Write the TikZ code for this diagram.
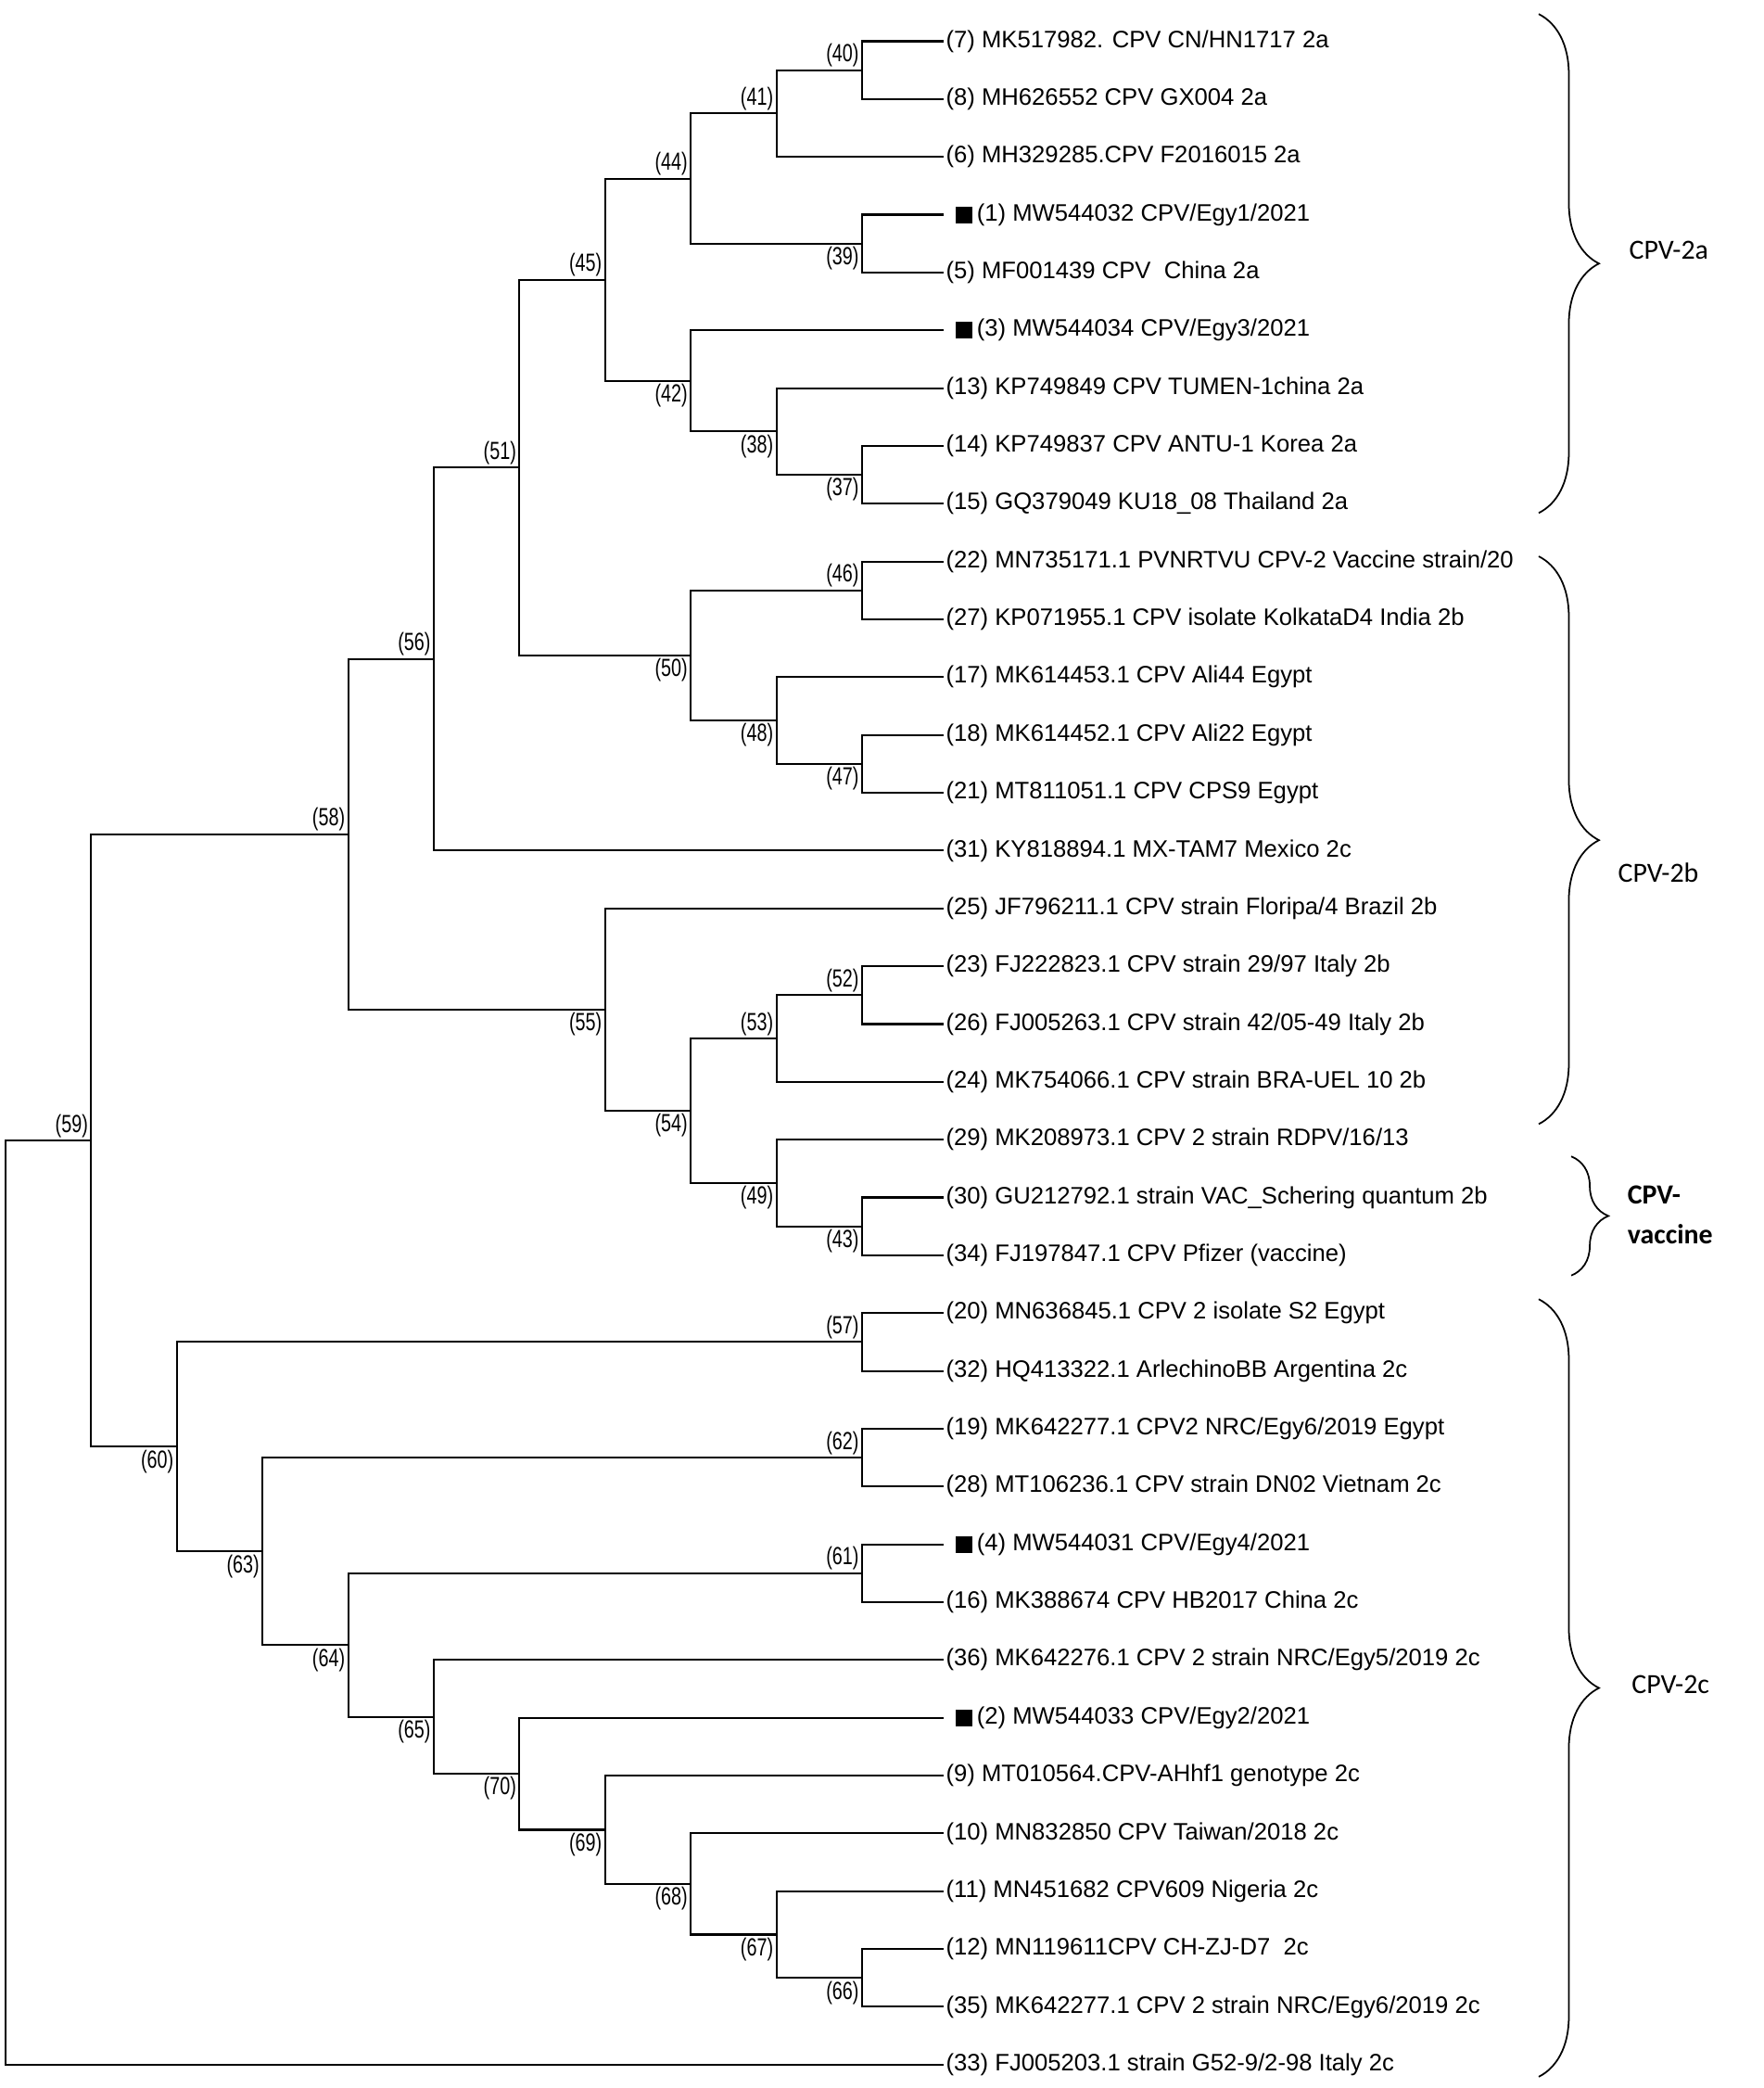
\documentclass[tikz,border=0pt]{standalone}
\usepackage{fontspec}
\setmainfont{Liberation Sans}
\newfontfamily\cladefont{Carlito}
\usetikzlibrary{decorations.pathreplacing}

\newcommand{\nodenum}[1]{\scalebox{0.74}[1]{(#1)}}

\tikzset{
  branch/.style={line width=0.6pt},
  leaf/.style={anchor=west, inner sep=0.6pt, font=\fontsize{7.3}{8}\selectfont},
  numup/.style={anchor=south east, inner sep=0.8pt, font=\fontsize{7.6}{8}\selectfont},
  numdown/.style={anchor=north east, inner sep=0.8pt, font=\fontsize{7.6}{8}\selectfont},
  egybox/.style={fill=black, minimum width=0.18cm, minimum height=0.18cm, inner sep=0pt},
  clade/.style={decorate, decoration={brace, amplitude=0.65cm}, line width=0.5pt},
  cladetext/.style={anchor=west, inner sep=0pt, font=\cladefont\fontsize{8.5}{10}\selectfont}
}

\begin{document}
\begin{tikzpicture}[x=0.924cm, y=-0.6235cm]
\useasboundingbox (-0.06cm,0.445cm) rectangle (18.96cm,-22.075cm);

% leaf ends
\coordinate (l7) at (10.95,0);
\coordinate (l8) at (10.95,1);
\coordinate (l6) at (10.95,2);
\coordinate (l1) at (10.95,3);
\coordinate (l5) at (10.95,4);
\coordinate (l3) at (10.95,5);
\coordinate (l13) at (10.95,6);
\coordinate (l14) at (10.95,7);
\coordinate (l15) at (10.95,8);
\coordinate (l22) at (10.95,9);
\coordinate (l27) at (10.95,10);
\coordinate (l17) at (10.95,11);
\coordinate (l18) at (10.95,12);
\coordinate (l21) at (10.95,13);
\coordinate (l31) at (10.95,14);
\coordinate (l25) at (10.95,15);
\coordinate (l23) at (10.95,16);
\coordinate (l26) at (10.95,17);
\coordinate (l24) at (10.95,18);
\coordinate (l29) at (10.95,19);
\coordinate (l30) at (10.95,20);
\coordinate (l34) at (10.95,21);
\coordinate (l20) at (10.95,22);
\coordinate (l32) at (10.95,23);
\coordinate (l19) at (10.95,24);
\coordinate (l28) at (10.95,25);
\coordinate (l4) at (10.95,26);
\coordinate (l16) at (10.95,27);
\coordinate (l36) at (10.95,28);
\coordinate (l2) at (10.95,29);
\coordinate (l9) at (10.95,30);
\coordinate (l10) at (10.95,31);
\coordinate (l11) at (10.95,32);
\coordinate (l12) at (10.95,33);
\coordinate (l35) at (10.95,34);
\coordinate (l33) at (10.95,35);

% inner nodes
\coordinate (n40) at (10,0.5);
\coordinate (n41) at (9,1.25);
\coordinate (n39) at (10,3.5);
\coordinate (n44) at (8,2.375);
\coordinate (n37) at (10,7.5);
\coordinate (n38) at (9,6.75);
\coordinate (n42) at (8,5.875);
\coordinate (n45) at (7,4.125);
\coordinate (n46) at (10,9.5);
\coordinate (n47) at (10,12.5);
\coordinate (n48) at (9,11.75);
\coordinate (n50) at (8,10.625);
\coordinate (n51) at (6,7.375);
\coordinate (n56) at (5,10.688);
\coordinate (n52) at (10,16.5);
\coordinate (n53) at (9,17.25);
\coordinate (n43) at (10,20.5);
\coordinate (n49) at (9,19.75);
\coordinate (n54) at (8,18.5);
\coordinate (n55) at (7,16.75);
\coordinate (n58) at (4,13.719);
\coordinate (n57) at (10,22.5);
\coordinate (n62) at (10,24.5);
\coordinate (n61) at (10,26.5);
\coordinate (n66) at (10,33.5);
\coordinate (n67) at (9,32.75);
\coordinate (n68) at (8,31.875);
\coordinate (n69) at (7,30.938);
\coordinate (n70) at (6,29.969);
\coordinate (n65) at (5,28.984);
\coordinate (n64) at (4,27.742);
\coordinate (n63) at (3,26.121);
\coordinate (n60) at (2,24.311);
\coordinate (n59) at (1,19.015);
\coordinate (nr) at (0,27.007);

% branches
\draw[branch] (l7) -| (n40) |- (l8);
\draw[branch] (n40) -| (n41) |- (l6);
\draw[branch] (l1) -| (n39) |- (l5);
\draw[branch] (n41) -| (n44) |- (n39);
\draw[branch] (l14) -| (n37) |- (l15);
\draw[branch] (l13) -| (n38) |- (n37);
\draw[branch] (l3) -| (n42) |- (n38);
\draw[branch] (n44) -| (n45) |- (n42);
\draw[branch] (l22) -| (n46) |- (l27);
\draw[branch] (l18) -| (n47) |- (l21);
\draw[branch] (l17) -| (n48) |- (n47);
\draw[branch] (n46) -| (n50) |- (n48);
\draw[branch] (n45) -| (n51) |- (n50);
\draw[branch] (n51) -| (n56) |- (l31);
\draw[branch] (l23) -| (n52) |- (l26);
\draw[branch] (n52) -| (n53) |- (l24);
\draw[branch] (l30) -| (n43) |- (l34);
\draw[branch] (l29) -| (n49) |- (n43);
\draw[branch] (n53) -| (n54) |- (n49);
\draw[branch] (l25) -| (n55) |- (n54);
\draw[branch] (n56) -| (n58) |- (n55);
\draw[branch] (l20) -| (n57) |- (l32);
\draw[branch] (l19) -| (n62) |- (l28);
\draw[branch] (l4) -| (n61) |- (l16);
\draw[branch] (l12) -| (n66) |- (l35);
\draw[branch] (l11) -| (n67) |- (n66);
\draw[branch] (l10) -| (n68) |- (n67);
\draw[branch] (l9) -| (n69) |- (n68);
\draw[branch] (l2) -| (n70) |- (n69);
\draw[branch] (l36) -| (n65) |- (n70);
\draw[branch] (n61) -| (n64) |- (n65);
\draw[branch] (n62) -| (n63) |- (n64);
\draw[branch] (n57) -| (n60) |- (n63);
\draw[branch] (n58) -| (n59) |- (n60);
\draw[branch] (n59) -| (nr) |- (l33);

% node numbers
\node[numup] (c40) at (n40) {\nodenum{40}};
\node[numup] (c41) at (n41) {\nodenum{41}};
\node[numup] (c44) at (n44) {\nodenum{44}};
\node[numup] (c45) at (n45) {\nodenum{45}};
\node[numup] (c51) at (n51) {\nodenum{51}};
\node[numup] (c46) at (n46) {\nodenum{46}};
\node[numup] (c56) at (n56) {\nodenum{56}};
\node[numup] (c58) at (n58) {\nodenum{58}};
\node[numup] (c52) at (n52) {\nodenum{52}};
\node[numup] (c53) at (n53) {\nodenum{53}};
\node[numup] (c57) at (n57) {\nodenum{57}};
\node[numup] (c62) at (n62) {\nodenum{62}};
\node[numup] (c61) at (n61) {\nodenum{61}};
\node[numup] (c59) at (n59) {\nodenum{59}};
\node[numdown] (c39) at (n39) {\nodenum{39}};
\node[numdown] (c37) at (n37) {\nodenum{37}};
\node[numdown] (c38) at (n38) {\nodenum{38}};
\node[numdown] (c42) at (n42) {\nodenum{42}};
\node[numdown] (c50) at (n50) {\nodenum{50}};
\node[numdown] (c48) at (n48) {\nodenum{48}};
\node[numdown] (c47) at (n47) {\nodenum{47}};
\node[numdown] (c55) at (n55) {\nodenum{55}};
\node[numdown] (c54) at (n54) {\nodenum{54}};
\node[numdown] (c49) at (n49) {\nodenum{49}};
\node[numdown] (c43) at (n43) {\nodenum{43}};
\node[numdown] (c60) at (n60) {\nodenum{60}};
\node[numdown] (c63) at (n63) {\nodenum{63}};
\node[numdown] (c64) at (n64) {\nodenum{64}};
\node[numdown] (c65) at (n65) {\nodenum{65}};
\node[numdown] (c70) at (n70) {\nodenum{70}};
\node[numdown] (c69) at (n69) {\nodenum{69}};
\node[numdown] (c68) at (n68) {\nodenum{68}};
\node[numdown] (c67) at (n67) {\nodenum{67}};
\node[numdown] (c66) at (n66) {\nodenum{66}};

% taxa
\node[leaf] (t7) at (l7) {(7) MK517982. CPV CN/HN1717 2a};
\node[leaf] (t8) at (l8) {(8) MH626552 CPV GX004 2a};
\node[leaf] (t6) at (l6) {(6) MH329285.CPV F2016015 2a};
\node[egybox] (s1) at (11.19,3) {};
\node[leaf] (t1) at (11.31,3) {(1) MW544032 CPV/Egy1/2021};
\node[leaf] (t5) at (l5) {(5) MF001439 CPV\ \ China 2a};
\node[egybox] (s3) at (11.19,5) {};
\node[leaf] (t3) at (11.31,5) {(3) MW544034 CPV/Egy3/2021};
\node[leaf] (t13) at (l13) {(13) KP749849 CPV TUMEN-1china 2a};
\node[leaf] (t14) at (l14) {(14) KP749837 CPV ANTU-1 Korea 2a};
\node[leaf] (t15) at (l15) {(15) GQ379049 KU18\_08 Thailand 2a};
\node[leaf] (t22) at (l22) {(22) MN735171.1 PVNRTVU CPV-2 Vaccine strain/20};
\node[leaf] (t27) at (l27) {(27) KP071955.1 CPV isolate KolkataD4 India 2b};
\node[leaf] (t17) at (l17) {(17) MK614453.1 CPV Ali44 Egypt};
\node[leaf] (t18) at (l18) {(18) MK614452.1 CPV Ali22 Egypt};
\node[leaf] (t21) at (l21) {(21) MT811051.1 CPV CPS9 Egypt};
\node[leaf] (t31) at (l31) {(31) KY818894.1 MX-TAM7 Mexico 2c};
\node[leaf] (t25) at (l25) {(25) JF796211.1 CPV strain Floripa/4 Brazil 2b};
\node[leaf] (t23) at (l23) {(23) FJ222823.1 CPV strain 29/97 Italy 2b};
\node[leaf] (t26) at (l26) {(26) FJ005263.1 CPV strain 42/05-49 Italy 2b};
\node[leaf] (t24) at (l24) {(24) MK754066.1 CPV strain BRA-UEL 10 2b};
\node[leaf] (t29) at (l29) {(29) MK208973.1 CPV 2 strain RDPV/16/13};
\node[leaf] (t30) at (l30) {(30) GU212792.1 strain VAC\_Schering quantum 2b};
\node[leaf] (t34) at (l34) {(34) FJ197847.1 CPV Pfizer (vaccine)};
\node[leaf] (t20) at (l20) {(20) MN636845.1 CPV 2 isolate S2 Egypt};
\node[leaf] (t32) at (l32) {(32) HQ413322.1 ArlechinoBB Argentina 2c};
\node[leaf] (t19) at (l19) {(19) MK642277.1 CPV2 NRC/Egy6/2019 Egypt};
\node[leaf] (t28) at (l28) {(28) MT106236.1 CPV strain DN02 Vietnam 2c};
\node[egybox] (s4) at (11.19,26) {};
\node[leaf] (t4) at (11.31,26) {(4) MW544031 CPV/Egy4/2021};
\node[leaf] (t16) at (l16) {(16) MK388674 CPV HB2017 China 2c};
\node[leaf] (t36) at (l36) {(36) MK642276.1 CPV 2 strain NRC/Egy5/2019 2c};
\node[egybox] (s2) at (11.19,29) {};
\node[leaf] (t2) at (11.31,29) {(2) MW544033 CPV/Egy2/2021};
\node[leaf] (t9) at (l9) {(9) MT010564.CPV-AHhf1 genotype 2c};
\node[leaf] (t10) at (l10) {(10) MN832850 CPV Taiwan/2018 2c};
\node[leaf] (t11) at (l11) {(11) MN451682 CPV609 Nigeria 2c};
\node[leaf] (t12) at (l12) {(12) MN119611CPV CH-ZJ-D7\ \ 2c};
\node[leaf] (t35) at (l35) {(35) MK642277.1 CPV 2 strain NRC/Egy6/2019 2c};
\node[leaf] (t33) at (l33) {(33) FJ005203.1 strain G52-9/2-98 Italy 2c};

% genotype braces
\coordinate (b2a) at (17.90,-0.47);
\coordinate (e2a) at (17.90,8.16);
\coordinate (b2b) at (17.90,8.91);
\coordinate (e2b) at (17.90,18.73);
\coordinate (bvac) at (18.28,19.29);
\coordinate (evac) at (18.28,21.35);
\coordinate (b2c) at (17.90,21.76);
\coordinate (e2c) at (17.90,35.21);
\draw[clade] (b2a) -- (e2a);
\draw[clade] (b2b) -- (e2b);
\draw[clade, decoration={amplitude=0.4cm}] (bvac) -- (evac);
\draw[clade] (b2c) -- (e2c);
\node[cladetext] (g2a) at (18.95,3.62) {CPV-2a};
\node[cladetext] (g2b) at (18.82,14.38) {CPV-2b};
\node[cladetext, align=left, font=\cladefont\bfseries\fontsize{8.5}{12}\selectfont] (gvac) at (18.93,20.30) {CPV-\\vaccine};
\node[cladetext] (g2c) at (18.98,28.43) {CPV-2c};
\end{tikzpicture}
\end{document}
